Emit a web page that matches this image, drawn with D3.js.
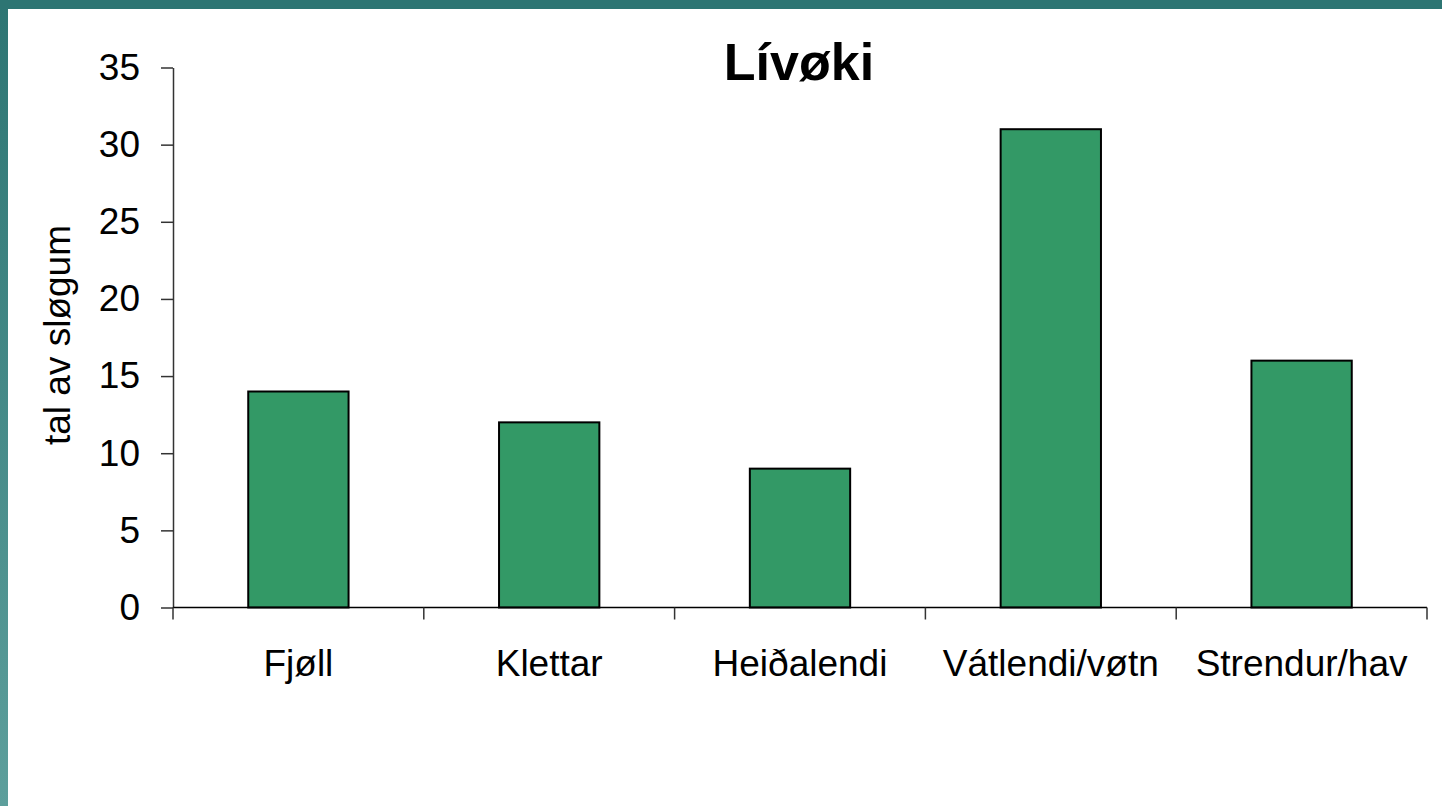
<!DOCTYPE html>
<html>
<head>
<meta charset="utf-8">
<script src="https://cdn.jsdelivr.net/npm/d3@7"></script>
<style>
  body { margin: 0; background: #fff; }
  svg { display: block; font-family: "Liberation Sans", Arial, sans-serif; }
</style>
</head>
<body>
<svg id="chart" width="1442" height="806"></svg>
<script>
// habitat counts
var categories = ["Fjøll", "Klettar", "Heiðalendi", "Vátlendi/vøtn", "Strendur/hav"];
var counts = [14, 12, 9, 31, 16];
var yTicks = [0, 5, 10, 15, 20, 25, 30, 35];
var chartTitle = "Lívøki";
var yTitle = "tal av sløgum";

var svg = d3.select("#chart");
var W = 1442, H = 806;

// slide frame: top band + left gradient band
var defs = svg.append("defs");
var grad = defs.append("linearGradient")
    .attr("id", "leftBand")
    .attr("x1", 0).attr("y1", 0).attr("x2", 0).attr("y2", 1);
grad.append("stop").attr("offset", "0%").attr("stop-color", "#2d7573");
grad.append("stop").attr("offset", "100%").attr("stop-color", "#5d9f9c");

svg.append("rect").attr("x", 0).attr("y", 0).attr("width", 8).attr("height", H)
    .attr("fill", "url(#leftBand)");
svg.append("rect").attr("x", 0).attr("y", 0).attr("width", W).attr("height", 9)
    .attr("fill", "#2d7573");

var plot = { left: 173, right: 1427, top: 67.5, bottom: 607.5 };

var x = d3.scaleBand()
    .domain(categories)
    .range([plot.left, plot.right])
    .paddingInner(0.6)
    .paddingOuter(0.3);

var y = d3.scaleLinear()
    .domain([0, 35])
    .range([plot.bottom, plot.top]);

// bars
svg.append("g").selectAll("rect")
    .data(counts)
    .enter().append("rect")
    .attr("x", function(d, i) { return x(categories[i]); })
    .attr("y", function(d) { return y(d); })
    .attr("width", x.bandwidth())
    .attr("height", function(d) { return y(0) - y(d); })
    .attr("fill", "#339966")
    .attr("stroke", "#000")
    .attr("stroke-width", 2);

// y axis
var yAxis = svg.append("g")
    .attr("transform", "translate(" + plot.left + ",0)")
    .call(d3.axisLeft(y).tickValues(yTicks).tickSize(12).tickPadding(21).tickSizeOuter(0));
yAxis.select(".domain").attr("stroke", "#333").attr("stroke-width", 1.5);
yAxis.selectAll(".tick line").attr("stroke", "#333").attr("stroke-width", 1.5);
yAxis.selectAll(".tick text")
    .attr("font-size", 37).attr("fill", "#000")
    .attr("font-family", "Liberation Sans, Arial, sans-serif");

// x axis: baseline plus ticks at category boundaries
var xAxis = svg.append("g");
xAxis.append("line")
    .attr("x1", plot.left).attr("x2", plot.right)
    .attr("y1", y(0)).attr("y2", y(0))
    .attr("stroke", "#000").attr("stroke-width", 1.5);
var step = x.step();
var bounds = d3.range(categories.length + 1).map(function(i) {
    return i < categories.length ? x(categories[i]) - x.paddingOuter() * step : plot.right;
});
xAxis.selectAll(".bound")
    .data(bounds)
    .enter().append("line")
    .attr("class", "bound")
    .attr("x1", function(d) { return d; }).attr("x2", function(d) { return d; })
    .attr("y1", y(0)).attr("y2", y(0) + 12)
    .attr("stroke", "#333").attr("stroke-width", 1.5);
xAxis.selectAll(".lbl")
    .data(categories)
    .enter().append("text")
    .attr("class", "lbl")
    .attr("x", function(d) { return x(d) + x.bandwidth() / 2; })
    .attr("y", 676)
    .attr("text-anchor", "middle")
    .attr("font-size", 37)
    .text(function(d) { return d; });

// titles
svg.append("text")
    .attr("x", 799).attr("y", 80)
    .attr("text-anchor", "middle")
    .attr("font-size", 52).attr("font-weight", "bold")
    .text(chartTitle);

svg.append("text")
    .attr("transform", "translate(70," + 335 + ") rotate(-90)")
    .attr("text-anchor", "middle")
    .attr("font-size", 37)
    .text(yTitle);
</script>
</body>
</html>
